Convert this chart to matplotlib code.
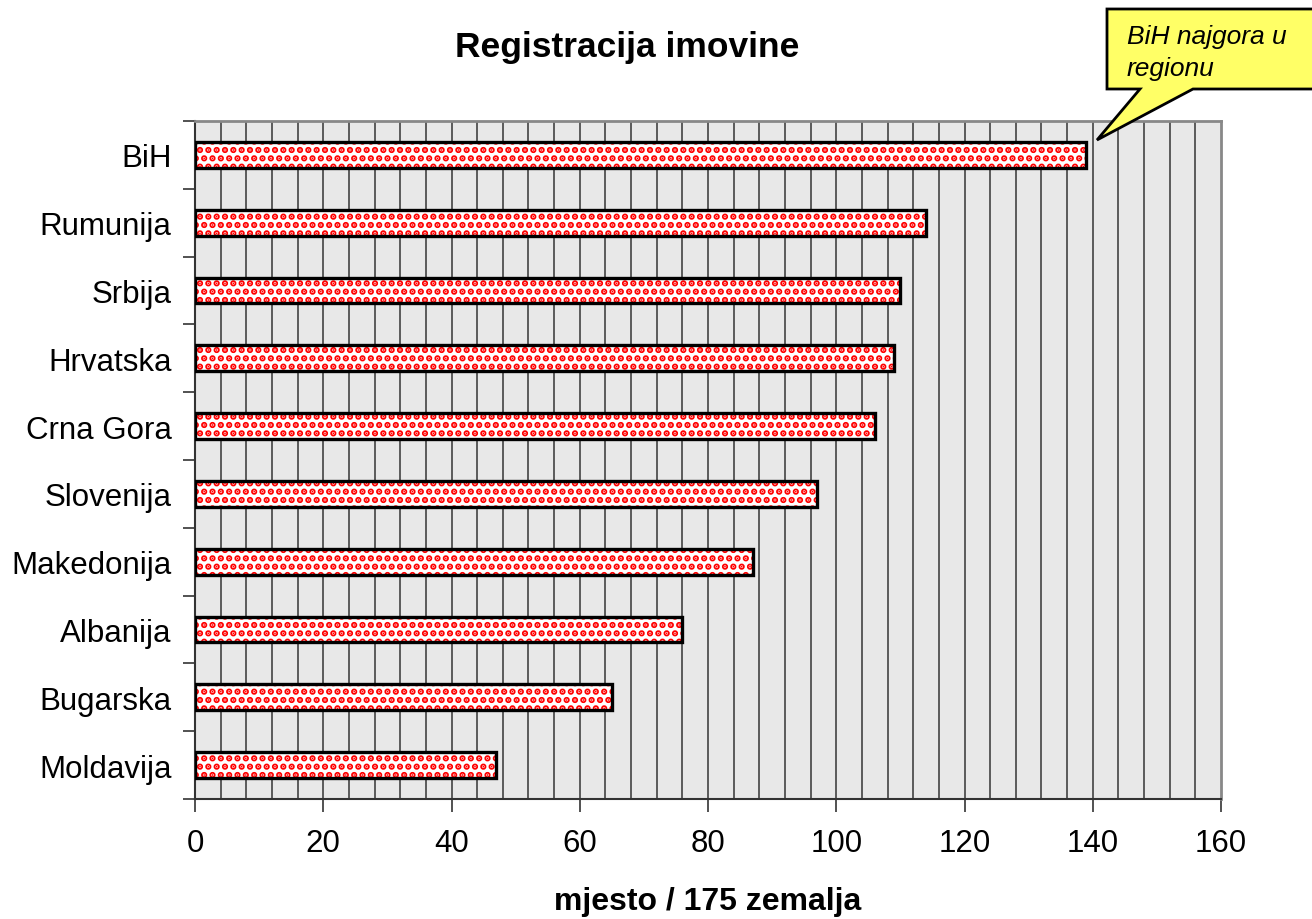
import matplotlib
matplotlib.use("Agg")
import matplotlib.pyplot as plt
from matplotlib.patches import Polygon
import numpy as np

plt.rcParams['font.family'] = ['Liberation Sans', 'DejaVu Sans']

countries = ["BiH", "Rumunija", "Srbija", "Hrvatska", "Crna Gora", "Slovenija",
             "Makedonija", "Albanija", "Bugarska", "Moldavija"]
values = [139, 114, 110, 109, 106, 97, 87, 76, 65, 47]
xticks = [0, 20, 40, 60, 80, 100, 120, 140, 160]
title = "Registracija imovine"
xlabel = "mjesto / 175 zemalja"
note = "BiH najgora u\nregionu"

fig = plt.figure(figsize=(13.12, 9.2), dpi=100)
ax = fig.add_axes([195/1312, 1-800/920, (1221-195)/1312, (800-122)/920])
ax.set_facecolor('#e8e8e8')

n = len(countries)
ypos = np.arange(n)[::-1]
ax.set_xlim(0, 160)
ax.set_ylim(-0.5, n-0.5)

# vertical gridlines every 4
for gx in range(4, 160, 4):
    ax.axvline(gx, color='#505050', lw=1.3, zorder=1)

plt.rcParams['hatch.linewidth'] = 3.2
ax.barh(ypos, values, height=0.38, color='white', edgecolor='#ff0000',
        hatch='..', linewidth=0, zorder=2)
ax.barh(ypos, values, height=0.38, fill=False, edgecolor='black',
        linewidth=2.4, zorder=3)

ax.set_xticks(xticks)
ax.set_xticklabels([str(t) for t in xticks], fontsize=22.5)
ax.set_yticks(np.arange(-0.5, n, 1), minor=False)
ax.set_yticklabels([])
ax.set_yticks(ypos, minor=True)
ax.set_yticklabels(countries, minor=True, fontsize=22.5)
ax.tick_params(axis='y', which='minor', length=0, pad=17)
ax.tick_params(axis='y', which='major', length=9, width=1.2, color='#333333')
ax.tick_params(axis='x', length=9, width=1.2, color='#333333', pad=12)

for s in ['top', 'right']:
    ax.spines[s].set_color('#888888')
    ax.spines[s].set_linewidth(2)
for s in ['left', 'bottom']:
    ax.spines[s].set_color('#333333')
    ax.spines[s].set_linewidth(1.5)

fig.text(627/1312, 1-47/920, title, ha='center', va='center',
         fontsize=25.5, fontweight='bold')
ax.set_xlabel(xlabel, fontsize=23, fontweight='bold', labelpad=20)

# callout
W, H = 1312, 920
pts = [(1107, 10), (1320, 10), (1320, 90), (1193, 90), (1097, 141), (1140, 90), (1107, 90)]
poly = Polygon([(x/W, 1-y/H) for x, y in pts], closed=True, transform=fig.transFigure,
               facecolor='#ffff66', edgecolor='black', linewidth=2, zorder=10,
               clip_on=False)
fig.add_artist(poly)
fig.text(1127/W, 1-53/H, note, ha='left', va='center', fontsize=19,
         style='italic', zorder=11, linespacing=1.4)

fig.savefig('out.png', dpi=100)
